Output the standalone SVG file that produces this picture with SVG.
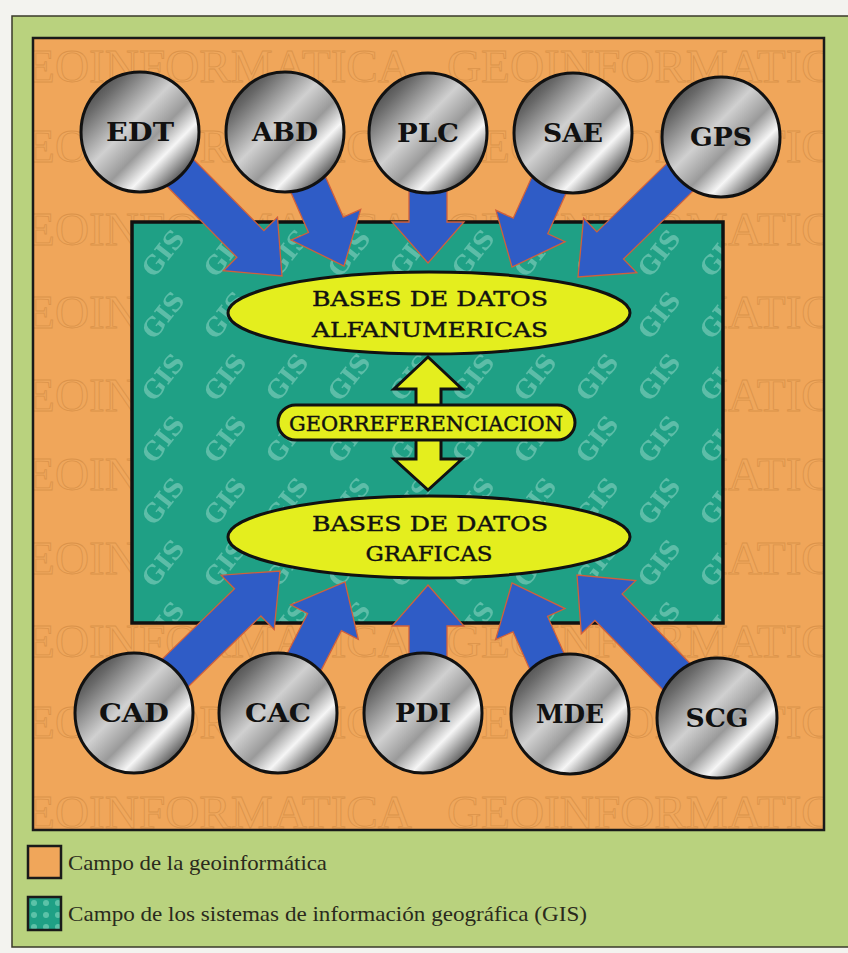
<svg xmlns="http://www.w3.org/2000/svg" width="848" height="953" viewBox="0 0 848 953">
  <style>
    .wm { font-family: "Liberation Serif", "DejaVu Serif", serif; font-size: 46px; fill: #efa85e; stroke: #d38c44; stroke-width: 0.8; opacity: 0.7; }
    .gis { font-family: "DejaVu Serif", serif; font-weight: bold; font-size: 25px; fill: #8fd6c4; opacity: 0.55; }
    .arrow { fill: #2f5cc6; stroke: #d0603c; stroke-width: 1.3; stroke-linejoin: miter; }
    .dbl { fill: #e4ee1e; stroke: #111; stroke-width: 3; stroke-linejoin: miter; }
    .ball { fill: url(#metal); stroke: #111; stroke-width: 3; }
    .blab { font-family: "DejaVu Serif", serif; font-weight: bold; font-size: 26px; fill: #111; text-anchor: middle; }
    .ell { fill: #e4ee1e; stroke: #111; stroke-width: 3; }
    .elab { font-family: "DejaVu Serif", serif; font-size: 20px; fill: #111; stroke: #111; stroke-width: 0.4; text-anchor: middle; }
    .leg { font-family: "Liberation Serif", serif; font-size: 21px; fill: #2a2a1c; }
  </style>
  <defs>
    <linearGradient id="metal" x1="0" y1="0" x2="1" y2="1">
      <stop offset="0" stop-color="#222222"/>
      <stop offset="0.2" stop-color="#686868"/>
      <stop offset="0.43" stop-color="#d0d0d0"/>
      <stop offset="0.58" stop-color="#9a9a9a"/>
      <stop offset="0.7" stop-color="#f6f6f6"/>
      <stop offset="0.84" stop-color="#6a6a6a"/>
      <stop offset="1" stop-color="#282828"/>
    </linearGradient>
    <pattern id="gispat" x="132" y="222" width="62" height="62" patternUnits="userSpaceOnUse">
      <rect width="62" height="62" fill="#1fa085"/>
      <text class="gis" transform="translate(31,31) rotate(-52)" x="0" y="9" text-anchor="middle">GIS</text>
    </pattern>
    <pattern id="gissmall" x="28" y="897" width="12" height="12" patternUnits="userSpaceOnUse">
      <rect width="12" height="12" fill="#1fa085"/>
      <circle cx="6" cy="6" r="3" fill="#5cc2a8"/>
    </pattern>
    <clipPath id="orclip">
      <rect x="33" y="38" width="791" height="792"/>
    </clipPath>
  </defs>

  <!-- page / panels -->
  <rect x="0" y="0" width="848" height="953" fill="#f3f3ef"/>
  <rect x="12" y="16" width="845" height="931" fill="#b9d27e" stroke="#3a3a2a" stroke-width="1.5"/>
  <rect x="33" y="38" width="791" height="792" fill="#f0a65a"/>
  <g clip-path="url(#orclip)">
    <text class="wm" x="-8" y="82" textLength="420" lengthAdjust="spacingAndGlyphs">GEOINFORMATICA</text>
    <text class="wm" x="447" y="82" textLength="420" lengthAdjust="spacingAndGlyphs">GEOINFORMATICA</text>
    <text class="wm" x="-8" y="162" textLength="420" lengthAdjust="spacingAndGlyphs">GEOINFORMATICA</text>
    <text class="wm" x="447" y="162" textLength="420" lengthAdjust="spacingAndGlyphs">GEOINFORMATICA</text>
    <text class="wm" x="-8" y="245" textLength="420" lengthAdjust="spacingAndGlyphs">GEOINFORMATICA</text>
    <text class="wm" x="447" y="245" textLength="420" lengthAdjust="spacingAndGlyphs">GEOINFORMATICA</text>
    <text class="wm" x="-8" y="328" textLength="420" lengthAdjust="spacingAndGlyphs">GEOINFORMATICA</text>
    <text class="wm" x="447" y="328" textLength="420" lengthAdjust="spacingAndGlyphs">GEOINFORMATICA</text>
    <text class="wm" x="-8" y="411" textLength="420" lengthAdjust="spacingAndGlyphs">GEOINFORMATICA</text>
    <text class="wm" x="447" y="411" textLength="420" lengthAdjust="spacingAndGlyphs">GEOINFORMATICA</text>
    <text class="wm" x="-8" y="490" textLength="420" lengthAdjust="spacingAndGlyphs">GEOINFORMATICA</text>
    <text class="wm" x="447" y="490" textLength="420" lengthAdjust="spacingAndGlyphs">GEOINFORMATICA</text>
    <text class="wm" x="-8" y="574" textLength="420" lengthAdjust="spacingAndGlyphs">GEOINFORMATICA</text>
    <text class="wm" x="447" y="574" textLength="420" lengthAdjust="spacingAndGlyphs">GEOINFORMATICA</text>
    <text class="wm" x="-8" y="657" textLength="420" lengthAdjust="spacingAndGlyphs">GEOINFORMATICA</text>
    <text class="wm" x="447" y="657" textLength="420" lengthAdjust="spacingAndGlyphs">GEOINFORMATICA</text>
    <text class="wm" x="-8" y="738" textLength="420" lengthAdjust="spacingAndGlyphs">GEOINFORMATICA</text>
    <text class="wm" x="447" y="738" textLength="420" lengthAdjust="spacingAndGlyphs">GEOINFORMATICA</text>
    <text class="wm" x="-8" y="828" textLength="420" lengthAdjust="spacingAndGlyphs">GEOINFORMATICA</text>
    <text class="wm" x="447" y="828" textLength="420" lengthAdjust="spacingAndGlyphs">GEOINFORMATICA</text>
  </g>
  <rect x="33" y="38" width="791" height="792" fill="none" stroke="#1a1a1a" stroke-width="2.5"/>

  <!-- GIS field -->
  <g id="gis-field">
    <rect x="132" y="222" width="591" height="401" fill="url(#gispat)" stroke="#111" stroke-width="3.5"/>
  </g>

  <!-- connectors -->
  <g id="connectors">
    <path class="arrow" d="M126.5,145.3 L236.9,257.3 L223.3,270.7 L282,276 L277.5,217.3 L263.9,230.7 L153.5,118.7 Z"/>
    <path class="arrow" d="M267.6,139.7 L308.5,232.5 L291.1,240.1 L344,266 L360.7,209.5 L343.3,217.1 L302.4,124.3 Z"/>
    <path class="arrow" d="M409,132 L409,222 L392,222 L428,263 L464,222 L447,222 L447,132 Z"/>
    <path class="arrow" d="M555.7,124.2 L513.2,218.2 L495.9,210.3 L512,267 L565.1,241.7 L547.8,233.8 L590.3,139.8 Z"/>
    <path class="arrow" d="M707.7,123.4 L596.9,231.9 L583.6,218.3 L578,277 L636.8,272.7 L623.5,259.1 L734.3,150.6 Z"/>

    <path class="arrow" d="M147.2,726.6 L260.9,616.0 L274.2,629.6 L280,571 L221.2,575.2 L234.5,588.8 L120.8,699.4 Z"/>
    <path class="arrow" d="M294.9,721.6 L341.4,630.7 L358.3,639.4 L345,582 L290.7,604.8 L307.6,613.5 L261.1,704.4 Z"/>
    <path class="arrow" d="M447,713 L447,626 L464,626 L428,585 L392,626 L409,626 L409,713 Z"/>
    <path class="arrow" d="M587.3,705.3 L547.6,616.4 L565.0,608.6 L512,583 L495.6,639.6 L513.0,631.8 L552.7,720.7 Z"/>
    <path class="arrow" d="M730.6,704.7 L622.1,593.9 L635.7,580.6 L577,575 L581.3,633.8 L594.9,620.5 L703.4,731.3 Z"/>

    <path class="dbl" d="M428,357 L462,389 L441,389 L441,459 L462,459 L428,490 L394,459 L416,459 L416,389 L394,389 Z"/>
  </g>

  <!-- top nodes -->
  <g id="node-EDT"><ellipse class="ball" cx="140" cy="132" rx="59" ry="60"/><text class="blab" x="140" y="141" textLength="68" lengthAdjust="spacingAndGlyphs">EDT</text></g>
  <g id="node-ABD"><ellipse class="ball" cx="285" cy="132" rx="59" ry="60"/><text class="blab" x="285" y="141" textLength="66" lengthAdjust="spacingAndGlyphs">ABD</text></g>
  <g id="node-PLC"><ellipse class="ball" cx="428" cy="133" rx="59" ry="60"/><text class="blab" x="428" y="142" textLength="62" lengthAdjust="spacingAndGlyphs">PLC</text></g>
  <g id="node-SAE"><ellipse class="ball" cx="573" cy="133" rx="59" ry="60"/><text class="blab" x="573" y="142" textLength="60" lengthAdjust="spacingAndGlyphs">SAE</text></g>
  <g id="node-GPS"><ellipse class="ball" cx="721" cy="137" rx="59" ry="60"/><text class="blab" x="721" y="146" textLength="62" lengthAdjust="spacingAndGlyphs">GPS</text></g>

  <!-- bottom nodes -->
  <g id="node-CAD"><ellipse class="ball" cx="134" cy="713" rx="59" ry="60"/><text class="blab" x="134" y="722" textLength="70" lengthAdjust="spacingAndGlyphs">CAD</text></g>
  <g id="node-CAC"><ellipse class="ball" cx="278" cy="713" rx="59" ry="60"/><text class="blab" x="278" y="722" textLength="66" lengthAdjust="spacingAndGlyphs">CAC</text></g>
  <g id="node-PDI"><ellipse class="ball" cx="423" cy="713" rx="59" ry="60"/><text class="blab" x="423" y="722" textLength="56" lengthAdjust="spacingAndGlyphs">PDI</text></g>
  <g id="node-MDE"><ellipse class="ball" cx="570" cy="714" rx="59" ry="60"/><text class="blab" x="570" y="723" textLength="68" lengthAdjust="spacingAndGlyphs">MDE</text></g>
  <g id="node-SCG"><ellipse class="ball" cx="717" cy="718" rx="60" ry="60"/><text class="blab" x="717" y="727" textLength="63" lengthAdjust="spacingAndGlyphs">SCG</text></g>

  <!-- central nodes -->
  <g id="node-alfanumericas">
    <ellipse class="ell" cx="429" cy="313" rx="201" ry="41"/>
    <text class="elab" x="430" y="306" textLength="236" lengthAdjust="spacingAndGlyphs">BASES DE DATOS</text>
    <text class="elab" x="430" y="337" textLength="236" lengthAdjust="spacingAndGlyphs">ALFANUMERICAS</text>
  </g>
  <g id="node-georreferenciacion">
    <rect x="278" y="405" width="297" height="35" rx="17.5" ry="17.5" fill="#e4ee1e" stroke="#111" stroke-width="3"/>
    <text class="elab" x="426" y="431" font-size="18" textLength="274" lengthAdjust="spacingAndGlyphs">GEORREFERENCIACION</text>
  </g>
  <g id="node-graficas">
    <ellipse class="ell" cx="429" cy="537" rx="201" ry="41"/>
    <text class="elab" x="430" y="531" textLength="236" lengthAdjust="spacingAndGlyphs">BASES DE DATOS</text>
    <text class="elab" x="429" y="561" textLength="127" lengthAdjust="spacingAndGlyphs">GRAFICAS</text>
  </g>

  <!-- legend -->
  <g id="legend">
    <rect x="28" y="846" width="33" height="32" fill="#f0a65a" stroke="#1a1a1a" stroke-width="2.5"/>
    <text class="leg" x="68" y="870" textLength="259" lengthAdjust="spacingAndGlyphs">Campo de la geoinformática</text>
    <rect x="28" y="897" width="33" height="33" fill="url(#gissmall)" stroke="#1a1a1a" stroke-width="2.5"/>
    <text class="leg" x="68" y="921" textLength="519" lengthAdjust="spacingAndGlyphs">Campo de los sistemas de información geográfica (GIS)</text>
  </g>
</svg>
